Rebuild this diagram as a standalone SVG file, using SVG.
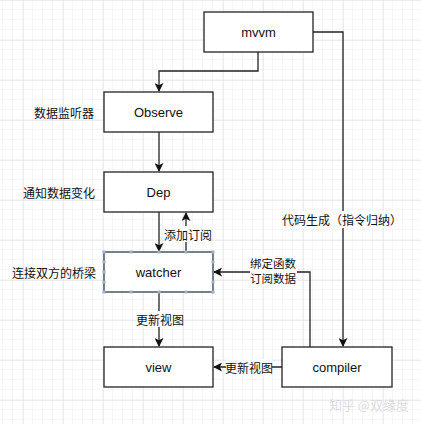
<svg xmlns="http://www.w3.org/2000/svg" width="421" height="424" viewBox="0 0 421 424">
<defs>
<pattern id="minor" width="10" height="10" patternUnits="userSpaceOnUse" x="3" y="0">
<path d="M10 0V10M0 10H10" fill="none" stroke="#ececf0" stroke-width="1"/>
</pattern>
<pattern id="major" width="40" height="40" patternUnits="userSpaceOnUse" x="23" y="0">
<path d="M0 0V40M0 0H40" fill="none" stroke="#dcdce2" stroke-width="1"/>
</pattern>
<marker id="arr" viewBox="0 0 10 10" refX="9" refY="5" markerWidth="9" markerHeight="9" markerUnits="userSpaceOnUse" orient="auto">
<path d="M0 0L10 5L0 10L2.5 5Z" fill="#111"/>
</marker>
</defs>
<style>
.box{fill:#fff;stroke:#222;stroke-width:1.3}
.t{font-family:"Liberation Sans","Noto Sans CJK SC",sans-serif;font-size:13px;fill:#111;text-anchor:middle;dominant-baseline:central}
.c{font-family:"Noto Sans CJK SC","Liberation Sans",sans-serif;font-size:12px;fill:#111;dominant-baseline:central}
.ln{fill:none;stroke:#222;stroke-width:1.3}
.bg{fill:#fff}
.h{fill:#9bb3c9;stroke:none}
</style>
<rect width="421" height="424" fill="#fff"/>
<rect width="421" height="424" fill="url(#minor)"/>
<rect width="421" height="424" fill="url(#major)"/>

<g id="connectors">
<path class="ln" d="M258 52V71H159V91" marker-end="url(#arr)"/>
<path class="ln" d="M313 32H343V346" marker-end="url(#arr)"/>
<path class="ln" d="M159 132V171" marker-end="url(#arr)"/>
<path class="ln" d="M159 212V251" marker-end="url(#arr)"/>
<path class="ln" d="M186 252V213" marker-end="url(#arr)"/>
<path class="ln" d="M310 347V272H214" marker-end="url(#arr)"/>
<path class="ln" d="M159 292V346" marker-end="url(#arr)"/>
<path class="ln" d="M282 367H214" marker-end="url(#arr)"/>
<rect class="bg" x="289" y="211" width="106" height="17"/>
<text class="c" x="342" y="219" text-anchor="middle">代码生成（指令归纳）</text>
<rect class="bg" x="165" y="226" width="45" height="16"/>
<text class="c" x="188" y="234" text-anchor="middle">添加订阅</text>
<rect class="bg" x="250" y="255" width="47" height="31"/>
<text class="c" x="273" y="263" text-anchor="middle" style="font-size:11.5px">绑定函数</text>
<text class="c" x="273" y="278" text-anchor="middle" style="font-size:11.5px">订阅数据</text>
<rect class="bg" x="137" y="311" width="46" height="16"/>
<text class="c" x="160" y="319" text-anchor="middle">更新视图</text>
<rect class="bg" x="226" y="359" width="46" height="16"/>
<text class="c" x="249" y="367" text-anchor="middle">更新视图</text>
</g>

<g id="mvvm">
<rect class="box" x="204" y="12" width="109" height="40"/>
<text class="t" x="258.5" y="32">mvvm</text>
</g>
<g id="observe">
<rect class="box" x="104" y="92" width="109" height="40"/>
<text class="t" x="158.5" y="112">Observe</text>
<text class="c" x="64" y="112" text-anchor="middle">数据监听器</text>
</g>
<g id="dep">
<rect class="box" x="104" y="172" width="109" height="40"/>
<text class="t" x="158.5" y="192">Dep</text>
<text class="c" x="59" y="192" text-anchor="middle">通知数据变化</text>
</g>
<g id="watcher">
<rect class="box" x="104" y="252" width="109" height="40" style="stroke:#2f3b47"/>
<g class="h">
<rect x="102.5" y="250.5" width="3" height="3"/><rect x="129.5" y="250.5" width="3" height="3"/><rect x="157.5" y="250.5" width="3" height="3"/><rect x="184.5" y="250.5" width="3" height="3"/><rect x="211.5" y="250.5" width="3" height="3"/>
<rect x="102.5" y="290.5" width="3" height="3"/><rect x="129.5" y="290.5" width="3" height="3"/><rect x="157.5" y="290.5" width="3" height="3"/><rect x="184.5" y="290.5" width="3" height="3"/><rect x="211.5" y="290.5" width="3" height="3"/>
<rect x="102.5" y="260.5" width="3" height="3"/><rect x="102.5" y="270.5" width="3" height="3"/><rect x="102.5" y="280.5" width="3" height="3"/>
<rect x="211.5" y="260.5" width="3" height="3"/><rect x="211.5" y="280.5" width="3" height="3"/>
</g>
<text class="t" x="158.5" y="272">watcher</text>
<text class="c" x="54" y="272" text-anchor="middle">连接双方的桥梁</text>
</g>
<g id="view">
<rect class="box" x="104" y="347" width="109" height="40"/>
<text class="t" x="158.5" y="367">view</text>
</g>
<g id="compiler">
<rect class="box" x="282" y="347" width="110" height="40"/>
<text class="t" x="337" y="367">compiler</text>
</g>
<text class="c" x="369" y="404" text-anchor="middle" style="fill:#dcdcdc;font-size:13px">知乎 @双缘度</text>
</svg>
